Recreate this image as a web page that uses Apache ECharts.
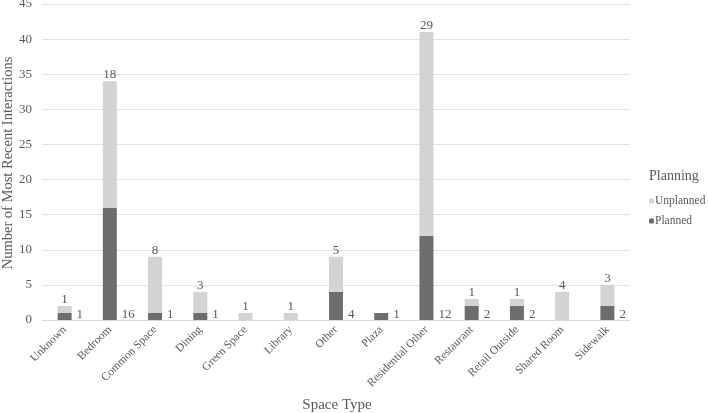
<!DOCTYPE html>
<html lang="en">
  <head>
    <meta charset="UTF-8" />
    <title>Space Type</title>
    <style>
      * {
        padding: 0;
        margin: 0;
      }
    </style>
    <script src="https://cdn.jsdelivr.net/npm/echarts@6/dist/echarts.min.js"></script>
  </head>
  <body>
    <div id="main" style="width: 708px; height: 413px;"></div>
    <script type="text/javascript">
      var categories = ['Unknown', 'Bedroom', 'Common Space', 'Dining', 'Green Space', 'Library', 'Other',
        'Plaza', 'Residential Other', 'Restaurant', 'Retail Outside', 'Shared Room', 'Sidewalk'];
      var planned = [1, 16, 1, 1, 0, 0, 4, 1, 12, 2, 2, 0, 2];
      var unplanned = [1, 18, 8, 3, 1, 1, 5, 0, 29, 1, 1, 4, 3];

      var font = 'Liberation Serif, Times New Roman, serif';
      var textColor = '#595959';
      var hideZero = function (p) { return p.value ? String(p.value) : ''; };

      var myChart = echarts.init(document.getElementById('main'));

      var option = {
        animation: false,
        textStyle: { fontFamily: font },
        title: {
          text: 'Planning',
          left: 644,
          top: 164,
          textStyle: { fontFamily: font, fontSize: 14, fontWeight: 'normal', color: textColor }
        },
        legend: {
          data: ['Unplanned', 'Planned'],
          orient: 'vertical',
          left: 644,
          top: 190,
          itemWidth: 5,
          itemHeight: 5,
          itemGap: 8,
          textStyle: { fontFamily: font, fontSize: 11.5, color: textColor, padding: [0, 0, 0, -4] }
        },
        // axis titles drawn as plain text so the v6 overlap mover leaves them where they belong
        graphic: [
          {
            type: 'text',
            x: 8,
            y: 163,
            rotation: Math.PI / 2,
            style: {
              text: 'Number of Most Recent Interactions',
              font: '14.5px ' + font,
              fill: textColor,
              align: 'center',
              verticalAlign: 'middle'
            }
          },
          {
            type: 'text',
            x: 337,
            y: 405,
            style: {
              text: 'Space Type',
              font: '15px ' + font,
              fill: textColor,
              align: 'center',
              verticalAlign: 'middle'
            }
          }
        ],
        grid: { left: 42, right: 78, top: 4, bottom: 93, containLabel: false, outerBoundsMode: 'none' },
        xAxis: {
          type: 'category',
          data: categories,
          axisLine: { lineStyle: { color: '#d9d9d9' } },
          axisTick: { show: false },
          axisLabel: { rotate: 45, fontFamily: font, fontSize: 11.5, color: textColor, margin: 8 }
        },
        yAxis: {
          type: 'value',
          min: 0,
          max: 45,
          interval: 5,
          axisLabel: { fontFamily: font, fontSize: 13, color: textColor, margin: 10 },
          splitLine: { lineStyle: { color: '#e3e3e3' } }
        },
        series: [
          {
            name: 'Planned',
            type: 'bar',
            stack: 'all',
            barWidth: 14,
            itemStyle: { color: '#6d6d6d' },
            label: {
              show: true,
              position: ['100%', '100%'],
              align: 'left',
              verticalAlign: 'bottom',
              offset: [5, 1],
              fontFamily: font,
              fontSize: 13,
              color: textColor,
              formatter: hideZero
            },
            data: planned
          },
          {
            name: 'Unplanned',
            type: 'bar',
            stack: 'all',
            barWidth: 14,
            itemStyle: { color: '#d3d3d3' },
            label: {
              show: true,
              position: 'top',
              distance: 0,
              fontFamily: font,
              fontSize: 13,
              color: textColor,
              formatter: hideZero
            },
            data: unplanned
          }
        ]
      };

      myChart.setOption(option, true);
    </script>
  </body>
</html>
